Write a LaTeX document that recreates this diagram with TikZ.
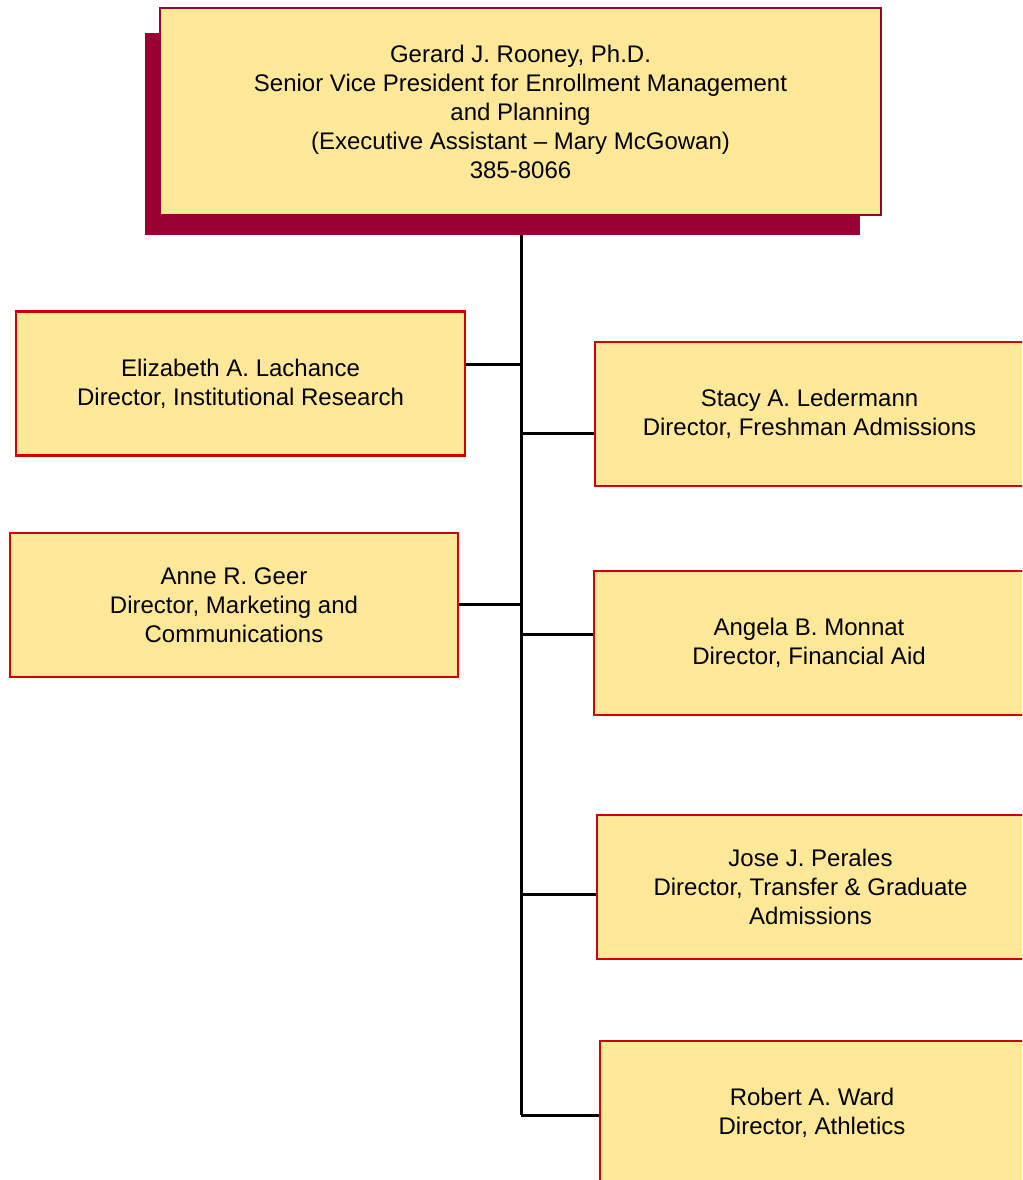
\documentclass[tikz,border=0pt]{standalone}
\usepackage{fontspec}
\setmainfont{Liberation Sans}
\usetikzlibrary{positioning}
\definecolor{boxfill}{HTML}{FFE999}
\definecolor{boxred}{HTML}{D00000}
\definecolor{wine}{HTML}{990033}

\begin{document}
\begin{tikzpicture}[x=0.75pt,y=-0.75pt,
  txt/.style={font=\fontsize{18}{21.75}\selectfont,align=center,inner sep=0pt},
  head/.style={txt,draw=wine,line width=1pt,fill=boxfill,minimum width=540.75pt,minimum height=155.25pt},
  staff/.style={txt,draw=boxred,line width=1.6pt,fill=boxfill,minimum height=108pt},
  link/.style={black,line width=2.25pt}]
\useasboundingbox (0,0) rectangle (1022,1180);
\clip (0,0) rectangle (1022,1180);
% head of the division with its shadow
\fill [wine] (145,33) rectangle (860,235);
\node[head] (vp) at (520.5,111.5) {Gerard J. Rooney, Ph.D.\\Senior Vice President for Enrollment Management\\and Planning\\(Executive Assistant -- Mary McGowan)\\385-8066};
\coordinate (vpfoot) at (521,235);
% directors
\node[staff,minimum width=336.75pt] (lachance) at (240.5,383.5) {Elizabeth A. Lachance\\Director, Institutional Research};
\node[staff,minimum width=336pt] (geer) at (234,605) {Anne R. Geer\\Director, Marketing and\\Communications};
\node[staff,minimum width=321.75pt] (ledermann) at (809.5,414) {Stacy A. Ledermann\\Director, Freshman Admissions};
\node[staff,minimum width=322.5pt] (monnat) at (809,643) {Angela B. Monnat\\Director, Financial Aid};
\node[staff,minimum width=320.25pt] (perales) at (810.5,887) {Jose J. Perales\\Director, Transfer \& Graduate\\Admissions};
\node[staff,minimum width=318pt] (ward) at (812,1113) {Robert A. Ward\\Director, Athletics};
% junctions on the trunk
\coordinate (j1) at (521,364);
\coordinate (j2) at (521,433);
\coordinate (j3) at (521,604);
\coordinate (j4) at (521,634);
\coordinate (j5) at (521,894);
\coordinate (j6) at (521,1115);
\draw [link] (vpfoot)--(j6);
\draw [link] (lachance.east |- j1)--(j1);
\draw [link] (j2)--(ledermann.west |- j2);
\draw [link] (geer.east |- j3)--(j3);
\draw [link] (j4)--(monnat.west |- j4);
\draw [link] (j5)--(perales.west |- j5);
\draw [link] (j6)--(ward.west |- j6);
\end{tikzpicture}
\end{document}
